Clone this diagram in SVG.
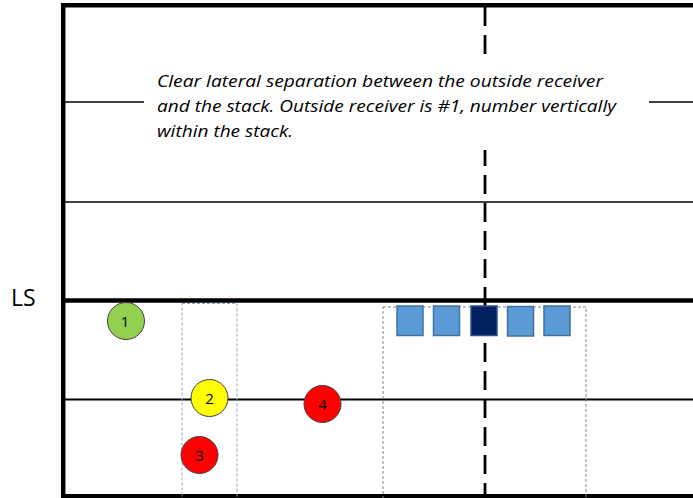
<svg xmlns="http://www.w3.org/2000/svg" width="693" height="498" viewBox="0 0 693 498">
<style>
.thick{stroke:#000;stroke-width:4.5;fill:none}
.thin{stroke:#000;stroke-width:1.6;fill:none}
.mid{stroke:#000;stroke-width:2;fill:none}
.axis{stroke:#000;stroke-width:2.8;stroke-dasharray:19 9;fill:none}
.zone1{fill:none;stroke:#8EA9C8;stroke-width:1;stroke-dasharray:3 2}
.zone2{fill:none;stroke:#7A8799;stroke-width:1;stroke-dasharray:3 2}
.rec{stroke:#404040;stroke-width:1}
.num{font-family:"Open Sans","Liberation Sans",Arial,sans-serif;font-size:15px;text-anchor:middle;fill:#000}
.note{font-family:"Open Sans","Liberation Sans",sans-serif;font-style:italic;font-size:16px;fill:#000}
.blk{fill:#5B9BD5;stroke:#41719C;stroke-width:1.5}
</style>
<rect width="693" height="498" fill="#fff"/>
<g id="field">
<line class="thin" x1="63" y1="102" x2="693" y2="102"/>
<line class="thin" x1="63" y1="202" x2="693" y2="202"/>
<line class="mid" x1="63" y1="399.5" x2="693" y2="399.5"/>
<line class="axis" x1="485" y1="7" x2="485" y2="498"/>
<line class="thick" x1="63" y1="300.5" x2="693" y2="300.5"/>
<line class="thick" x1="61" y1="5.2" x2="693" y2="5.2"/>
<line class="thick" x1="63.2" y1="3" x2="63.2" y2="498"/>
<line class="thick" x1="61" y1="496.3" x2="693" y2="496.3"/>
</g>
<g id="note">
<rect x="144" y="62" width="505" height="88" fill="#fff"/>
<text class="note" x="157" y="87" textLength="446" lengthAdjust="spacingAndGlyphs">Clear lateral separation between the outside receiver</text>
<text class="note" x="157" y="112" textLength="459" lengthAdjust="spacingAndGlyphs">and the stack. Outside receiver is #1, number vertically</text>
<text class="note" x="157" y="137" textLength="136" lengthAdjust="spacingAndGlyphs">within the stack.</text>
</g>
<g id="ls-label">
<text x="11" y="306" font-family="'Open Sans','Liberation Sans',sans-serif" font-size="23" fill="#000">LS</text>
</g>
<g id="zones">
<rect class="zone1" x="182" y="303.5" width="55" height="196"/>
<rect class="zone2" x="383" y="307" width="203" height="193"/>
</g>
<g id="stack">
<rect class="blk" x="397" y="306" width="26" height="29.5"/>
<rect class="blk" x="433.5" y="306" width="26" height="29.5"/>
<rect x="471" y="306" width="26" height="29.5" fill="#002060" stroke="#2F528F" stroke-width="1.5"/>
<rect class="blk" x="507.5" y="306.5" width="26" height="29.5"/>
<rect class="blk" x="544" y="306" width="26" height="29.5"/>
</g>
<g id="r1"><circle class="rec" cx="126" cy="321" r="18.5" fill="#92D050"/><text class="num" x="125" y="326.5">1</text></g>
<g id="r2"><circle class="rec" cx="209.5" cy="398" r="18.5" fill="#FFFF00"/><text class="num" x="209.5" y="403.5">2</text></g>
<g id="r3"><circle class="rec" cx="199.5" cy="455" r="18.5" fill="#FF0000"/><text class="num" x="199.5" y="460.5">3</text></g>
<g id="r4"><circle class="rec" cx="322.5" cy="404" r="18.5" fill="#FF0000"/><text class="num" x="322.5" y="409.5">4</text></g>
</svg>
